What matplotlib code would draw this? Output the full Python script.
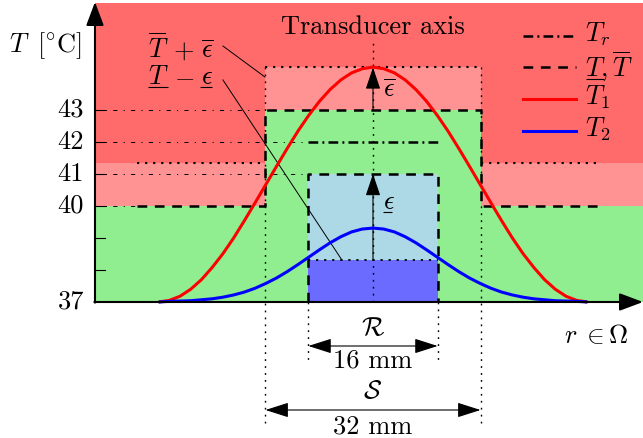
import matplotlib
matplotlib.use('Agg')
import matplotlib.pyplot as plt

plt.rcParams['font.family'] = 'serif'
plt.rcParams['font.serif'] = ['cmr10']
plt.rcParams['mathtext.fontset'] = 'cm'
plt.rcParams['axes.unicode_minus'] = False
plt.rcParams['lines.scale_dashes'] = False

# temperature levels [degC]
T_base = 37
T_top = 46.34
T_ticks = [37, 40, 41, 42, 43]
T_minor = [38, 39]
T_up_out = 40      # upper bound outside S
T_up_in = 43       # upper bound inside S
T_low = 41         # lower bound inside R
T_ref = 42         # reference temperature in R
eps_up = 1.33
eps_lo = 2.69

# region half widths along r (drawing units)
S_half = 3.36
R_half = 2.02
bound_l, bound_r = -7.375, 7.09
x_axis0, x_axis1 = -8.6875, 8.4375

# sampled temperature profiles along r
u_pts = [-1.0, -0.95, -0.9, -0.85, -0.8, -0.75, -0.7, -0.65, -0.6, -0.55, -0.5,
         -0.45, -0.4, -0.35, -0.3, -0.25, -0.2, -0.15, -0.1, -0.05, 0.0,
         0.05, 0.1, 0.15, 0.2, 0.25, 0.3, 0.35, 0.4, 0.45, 0.5,
         0.55, 0.6, 0.65, 0.7, 0.75, 0.8, 0.85, 0.9, 0.95, 1.0]
curve_half = 6.70
T1_pts = [37.00, 37.05, 37.18, 37.40, 37.70, 38.08, 38.51, 39.00, 39.54, 40.10, 40.67,
          41.24, 41.80, 42.34, 42.83, 43.27, 43.64, 43.94, 44.16, 44.29, 44.34,
          44.29, 44.16, 43.94, 43.64, 43.27, 42.83, 42.34, 41.80, 41.24, 40.67,
          40.10, 39.54, 39.00, 38.51, 38.08, 37.70, 37.40, 37.18, 37.05, 37.00]
T2_pts = [37.00, 37.02, 37.03, 37.04, 37.07, 37.10, 37.15, 37.22, 37.31, 37.43, 37.58,
          37.75, 37.95, 38.17, 38.40, 38.63, 38.85, 39.04, 39.19, 39.28, 39.31,
          39.28, 39.19, 39.04, 38.85, 38.63, 38.40, 38.17, 37.95, 37.75, 37.58,
          37.43, 37.31, 37.22, 37.15, 37.10, 37.07, 37.04, 37.03, 37.02, 37.00]
r_pts = [u * curve_half for u in u_pts]

RED = '#ff6b6b'
PINK = '#ff9393'
GREEN = '#90ee90'
LBLUE = '#add8e6'
DBLUE = '#6b6bff'

DASHED = (0, (7.0, 5.5))
DASHDOT = (0, (7.0, 3.0, 1.4, 3.0))
THIN_DD = (0, (3.0, 4.5, 0.8, 4.5))
DOTTED = (0, (1.3, 3.7))
DOTTED_B = (0, (1.6, 4.2))

fig = plt.figure(figsize=(6.43, 4.38), dpi=100)
ax = fig.add_axes([0, 0, 1, 1])
ax.set_xlim(-11.656, 8.4375)
ax.set_ylim(32.75, 46.4375)
ax.axis('off')


def box(x0, x1, t0, t1, color):
    ax.fill_between([x0, x1], t0, t1, color=color, lw=0, zorder=1)


def path(xs, ts, ls, lw, z=3, color='k'):
    ax.plot(xs, ts, color=color, ls=ls, lw=lw, zorder=z,
            solid_capstyle='butt', dash_capstyle='butt')


def underline(x0, x1, t):
    ax.plot([x0, x1], [t, t], color='k', lw=0.8, zorder=7, solid_capstyle='butt')


# background regions
box(x_axis0, x_axis1, T_base, T_top, RED)
box(x_axis0, -S_half, T_up_out, T_up_out + eps_up, PINK)
box(S_half, x_axis1, T_up_out, T_up_out + eps_up, PINK)
box(-S_half, S_half, T_up_in, T_up_in + eps_up, PINK)
box(x_axis0, -S_half, T_base, T_up_out, GREEN)
box(S_half, x_axis1, T_base, T_up_out, GREEN)
box(-S_half, S_half, T_base, T_up_in, GREEN)
box(-R_half, R_half, T_low - eps_lo, T_low, LBLUE)
box(-R_half, R_half, T_base, T_low - eps_lo, DBLUE)

# guide lines from the temperature axis
guide_end = {43: -S_half, 42: -R_half, 41: -R_half, 40: bound_l}
for t, xe in guide_end.items():
    path([x_axis0, xe], [t, t], THIN_DD, 0.7, z=2)

# dotted construction lines
for s in (-1, 1):
    path([s * S_half, s * S_half], [T_up_in + eps_up, 33.22], DOTTED, 1.0, z=2)
    path([s * R_half, s * R_half], [T_base, 35.19], DOTTED, 1.0, z=2)
path([0, 0], [T_base, 45.09], DOTTED, 1.0, z=2)
path([bound_l, -S_half], [T_up_out + eps_up] * 2, DOTTED_B, 1.5)
path([S_half, bound_r], [T_up_out + eps_up] * 2, DOTTED_B, 1.5)
path([-S_half, S_half], [T_up_in + eps_up] * 2, DOTTED_B, 1.5)
path([-R_half, R_half], [T_low - eps_lo] * 2, DOTTED_B, 1.3)

# bounds and reference temperature
path([bound_l, -S_half, -S_half, S_half, S_half, bound_r],
     [T_up_out, T_up_out, T_up_in, T_up_in, T_up_out, T_up_out], DASHED, 1.8)
path([-R_half, -R_half, R_half, R_half],
     [T_base, T_low, T_low, T_base], DASHED, 1.8)
path([-R_half, R_half], [T_ref, T_ref], DASHDOT, 1.8)

# temperature profiles
ax.plot(r_pts, T1_pts, color='red', lw=2.2, zorder=5, solid_capstyle='butt')
ax.plot(r_pts, T2_pts, color='blue', lw=2.2, zorder=5, solid_capstyle='butt')

# margin arrows on the transducer axis
arr = dict(arrowstyle='-|>,head_length=0.68,head_width=0.23', color='k',
           lw=0.8, shrinkA=0, shrinkB=0, mutation_scale=20)
ax.annotate('', xy=(0, T_low), xytext=(0, T_low - eps_lo), arrowprops=arr, zorder=4)
ax.annotate('', xy=(0, T_up_in + eps_up), xytext=(0, T_up_in), arrowprops=arr, zorder=4)

# axes with arrow heads
axarr = dict(arrowstyle='-|>,head_length=0.72,head_width=0.27', color='k',
             lw=1.5, shrinkA=0, shrinkB=0, mutation_scale=20)
ax.annotate('', xy=(x_axis0, 46.375), xytext=(x_axis0, T_base - 0.02),
            arrowprops=axarr, zorder=6)
ax.annotate('', xy=(x_axis1, T_base), xytext=(x_axis0 - 0.02, T_base),
            arrowprops=axarr, zorder=6)
for t in T_ticks[1:] + T_minor:
    ax.plot([x_axis0, x_axis0 + 0.32], [t, t], color='k', lw=0.8, zorder=6)

# width dimensions
dim = dict(arrowstyle='<|-|>,head_length=0.72,head_width=0.23', color='k',
           lw=0.8, shrinkA=0, shrinkB=0, mutation_scale=20)
ax.annotate('', xy=(R_half, 35.625), xytext=(-R_half, 35.625), arrowprops=dim)
ax.annotate('', xy=(S_half, 33.625), xytext=(-S_half, 33.625), arrowprops=dim)

fs = 19
ax.text(0, 35.97, r'$\mathcal{R}$', ha='center', va='baseline', fontsize=fs)
ax.text(0, 34.94, '16 mm', ha='center', va='baseline', fontsize=fs)
ax.text(0, 34.0, r'$\mathcal{S}$', ha='center', va='baseline', fontsize=fs)
ax.text(0, 32.9, '32 mm', ha='center', va='baseline', fontsize=fs)
for sym, xc in ((r'$r$', 6.19), (r'$\in$', 6.89), (r'$\Omega$', 7.64)):
    ax.text(xc, 35.72, sym, ha='center', va='baseline', fontsize=fs)
ax.text(0, 45.39, 'Transducer axis', ha='center', va='baseline', fontsize=fs, zorder=7)
ax.text(-10.25, 45.0, r'$T\;\;[^{\circ}\mathrm{C}]$', ha='center', va='center', fontsize=fs)
for t in T_ticks:
    ax.text(-9.03, t, str(t), ha='right', va='center', fontsize=fs)

# margin labels
ax.text(0.31, 43.41, r'$\overline{\epsilon}$', ha='left', va='baseline', fontsize=fs, zorder=7)
ax.text(0.31, 39.9, r'$\epsilon$', ha='left', va='baseline', fontsize=fs, zorder=7)
underline(0.31, 0.59, 39.80)

# bound labels with leader lines
ax.text(-7.03, 44.625, r'$\overline{T}$', ha='left', va='baseline', fontsize=fs, zorder=7)
ax.text(-5.91, 44.625, r'$+$', ha='center', va='baseline', fontsize=fs, zorder=7)
ax.text(-5.38, 44.625, r'$\overline{\epsilon}$', ha='left', va='baseline', fontsize=fs, zorder=7)
ax.text(-7.03, 43.82, r'$T$', ha='left', va='baseline', fontsize=fs, zorder=7)
ax.text(-5.91, 43.82, r'$-$', ha='center', va='baseline', fontsize=fs, zorder=7)
ax.text(-5.38, 43.82, r'$\epsilon$', ha='left', va='baseline', fontsize=fs, zorder=7)
underline(-7.03, -6.41, 43.72)
underline(-5.41, -5.03, 43.72)
ax.plot([-4.69, -3.375], [45.0, 44.03], color='k', lw=0.7, zorder=4)
ax.plot([-4.69, -0.97], [43.94, T_low - eps_lo], color='k', lw=0.7, zorder=4)

# legend
leg_x0, leg_x1, leg_tx = 4.69, 6.34, 6.625
path([leg_x0, leg_x1], [45.31, 45.31], DASHDOT, 1.8, z=7)
path([leg_x0, leg_x1], [44.34, 44.34], DASHED, 1.8, z=7)
ax.plot([leg_x0, leg_x1], [43.34, 43.34], color='red', lw=2.2, zorder=7)
ax.plot([leg_x0, leg_x1], [42.34, 42.34], color='blue', lw=2.2, zorder=7)
ax.text(leg_tx, 45.125, r'$T_r$', ha='left', va='baseline', fontsize=fs)
ax.text(leg_tx, 44.03, r'$T, \overline{T}$', ha='left', va='baseline', fontsize=fs)
underline(leg_tx + 0.03, leg_tx + 0.6, 43.97)
ax.text(leg_tx, 43.16, r'$T_1$', ha='left', va='baseline', fontsize=fs)
ax.text(leg_tx, 42.16, r'$T_2$', ha='left', va='baseline', fontsize=fs)

fig.savefig('out.png', dpi=100)
